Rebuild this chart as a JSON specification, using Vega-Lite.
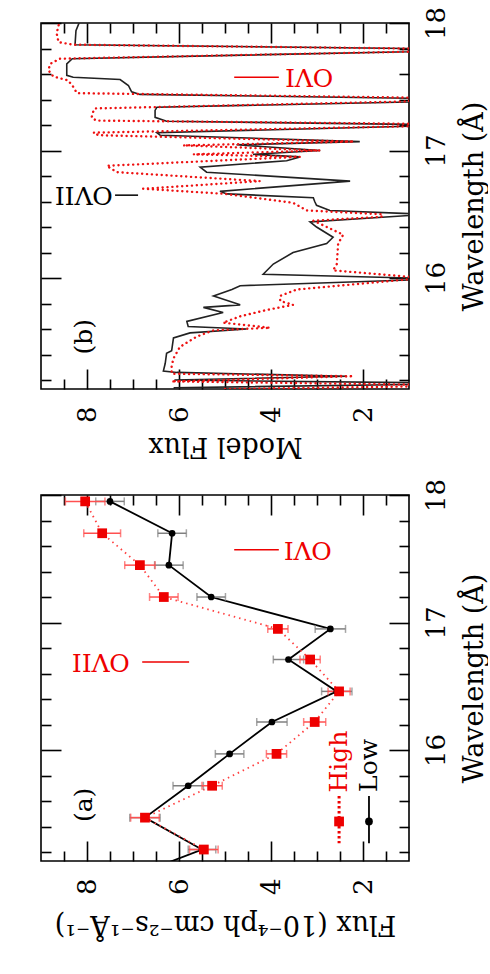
{
  "$schema": "https://vega.github.io/schema/vega-lite/v6.json",
  "background": "white",
  "padding": {"left": 39, "top": 5, "right": 0, "bottom": 40},
  "config": {
    "view": {"stroke": "#000", "strokeWidth": 1.6},
    "font": "DejaVu Serif",
    "axis": {"labelFont": "DejaVu Serif", "titleFont": "DejaVu Serif", "labelColor": "#000", "titleColor": "#000", "tickColor": "#000", "tickWidth": 1.6, "grid": false, "domain": false, "labelFontSize": 26, "titleFontSize": 27, "titleFontWeight": "normal", "labelOverlap": false, "labelFlush": false}
  },
  "datasets": {
    "bBlack": [
      {"w":18.02,"flux":8.15},{"w":17.94,"flux":8.24},{"w":17.83,"flux":8.26},{"w":17.8,"flux":1.0},{"w":17.775,"flux":1.0},{"w":17.72,"flux":8.32},{"w":17.68,"flux":8.44},{"w":17.59,"flux":8.44},{"w":17.575,"flux":8.3},{"w":17.557,"flux":7.28},{"w":17.51,"flux":7.1},{"w":17.46,"flux":7.03},{"w":17.44,"flux":6.85},{"w":17.41,"flux":1.0},{"w":17.38,"flux":1.0},{"w":17.34,"flux":6.48},{"w":17.315,"flux":6.52},{"w":17.26,"flux":6.52},{"w":17.23,"flux":6.27},{"w":17.205,"flux":1.0},{"w":17.19,"flux":1.0},{"w":17.14,"flux":6.48},{"w":17.12,"flux":6.41},{"w":17.07,"flux":2.07},{"w":17.045,"flux":4.75},{"w":17.0,"flux":2.93},{"w":16.97,"flux":4.39},{"w":16.95,"flux":3.37},{"w":16.92,"flux":3.66},{"w":16.87,"flux":5.54},{"w":16.83,"flux":5.4},{"w":16.76,"flux":2.28},{"w":16.68,"flux":5.11},{"w":16.66,"flux":4.96},{"w":16.63,"flux":3.08},{"w":16.6,"flux":3.05},{"w":16.57,"flux":3.01},{"w":16.53,"flux":2.72},{"w":16.505,"flux":1.0},{"w":16.49,"flux":1.0},{"w":16.44,"flux":3.15},{"w":16.4,"flux":3.01},{"w":16.32,"flux":2.65},{"w":16.27,"flux":2.79},{"w":16.2,"flux":3.52},{"w":16.11,"flux":3.95},{"w":16.03,"flux":4.17},{"w":16.0,"flux":1.0},{"w":15.985,"flux":1.0},{"w":15.94,"flux":4.67},{"w":15.91,"flux":4.85},{"w":15.86,"flux":5.25},{"w":15.79,"flux":4.67},{"w":15.77,"flux":5.47},{"w":15.73,"flux":5.04},{"w":15.66,"flux":5.83},{"w":15.62,"flux":5.8},{"w":15.6,"flux":4.53},{"w":15.57,"flux":5.76},{"w":15.53,"flux":6.12},{"w":15.43,"flux":6.16},{"w":15.41,"flux":6.27},{"w":15.33,"flux":6.3},{"w":15.27,"flux":6.34},{"w":15.26,"flux":6.05},{"w":15.23,"flux":2.35},{"w":15.2,"flux":6.1},{"w":15.18,"flux":1.0},{"w":15.165,"flux":1.0},{"w":15.14,"flux":6.1},{"w":15.1,"flux":6.1}
    ],
    "bRed": [
      {"w":18.02,"flux":8.59},{"w":17.92,"flux":8.66},{"w":17.85,"flux":8.62},{"w":17.83,"flux":8.3},{"w":17.8,"flux":1.0},{"w":17.775,"flux":1.0},{"w":17.72,"flux":8.59},{"w":17.68,"flux":8.8},{"w":17.63,"flux":8.84},{"w":17.58,"flux":8.73},{"w":17.55,"flux":8.41},{"w":17.5,"flux":8.3},{"w":17.45,"flux":8.22},{"w":17.415,"flux":1.0},{"w":17.385,"flux":1.0},{"w":17.33,"flux":7.83},{"w":17.31,"flux":7.86},{"w":17.26,"flux":7.9},{"w":17.235,"flux":7.8},{"w":17.21,"flux":1.0},{"w":17.19,"flux":1.0},{"w":17.14,"flux":7.86},{"w":17.12,"flux":7.75},{"w":17.07,"flux":2.2},{"w":17.04,"flux":5.91},{"w":17.0,"flux":2.93},{"w":16.97,"flux":5.69},{"w":16.95,"flux":3.37},{"w":16.93,"flux":4.6},{"w":16.88,"flux":7.57},{"w":16.83,"flux":7.35},{"w":16.76,"flux":4.24},{"w":16.7,"flux":6.78},{"w":16.66,"flux":5.0},{"w":16.59,"flux":3.52},{"w":16.53,"flux":3.22},{"w":16.5,"flux":1.57},{"w":16.48,"flux":1.6},{"w":16.45,"flux":3.08},{"w":16.34,"flux":2.43},{"w":16.27,"flux":2.54},{"w":16.11,"flux":2.57},{"w":16.06,"flux":2.65},{"w":16.01,"flux":1.0},{"w":15.99,"flux":1.0},{"w":15.91,"flux":3.44},{"w":15.86,"flux":3.8},{"w":15.82,"flux":3.8},{"w":15.79,"flux":3.52},{"w":15.75,"flux":4.09},{"w":15.7,"flux":4.67},{"w":15.65,"flux":5.04},{"w":15.61,"flux":4.02},{"w":15.59,"flux":5.25},{"w":15.54,"flux":5.62},{"w":15.46,"flux":5.98},{"w":15.37,"flux":6.12},{"w":15.31,"flux":6.16},{"w":15.25,"flux":6.16},{"w":15.23,"flux":2.21},{"w":15.19,"flux":6.16},{"w":15.165,"flux":1.0},{"w":15.15,"flux":1.0},{"w":15.13,"flux":5.0},{"w":15.1,"flux":5.0}
    ],
    "bNoteRed": [{"w":17.575,"flux":3.17,"flux2":4.8,"flux3":3.83,"label":"OVI"}],
    "bNoteBlack": [{"w":16.65,"flux":8.07,"flux2":7.39,"flux3":6.89,"label":"OVII"}],
    "bTag": [{"w":15.54,"flux":8.07,"label":"(b)"}],
    "aLow": [
      {"w":17.95,"flux":7.5,"err":0.31},{"w":17.7,"flux":6.15,"err":0.31},{"w":17.45,"flux":6.22,"err":0.31},{"w":17.2,"flux":5.3,"err":0.31},{"w":16.95,"flux":2.71,"err":0.33},{"w":16.71,"flux":3.62,"err":0.33},{"w":16.46,"flux":2.57,"err":0.33},{"w":16.22,"flux":3.98,"err":0.33},{"w":15.97,"flux":4.9,"err":0.31},{"w":15.72,"flux":5.8,"err":0.33},{"w":15.47,"flux":6.74,"err":0.33},{"w":15.22,"flux":5.5,"err":0.3}
    ],
    "aLowLine": [
      {"w":17.95,"flux":7.5},{"w":17.7,"flux":6.15},{"w":17.45,"flux":6.22},{"w":17.2,"flux":5.3},{"w":16.95,"flux":2.71},{"w":16.71,"flux":3.62},{"w":16.46,"flux":2.57},{"w":16.22,"flux":3.98},{"w":15.97,"flux":4.9},{"w":15.72,"flux":5.8},{"w":15.47,"flux":6.74},{"w":15.22,"flux":5.5},{"w":14.97,"flux":7.3}
    ],
    "aHigh": [
      {"w":17.95,"flux":8.04,"err":0.43},{"w":17.7,"flux":7.67,"err":0.4},{"w":17.45,"flux":6.85,"err":0.33},{"w":17.2,"flux":6.33,"err":0.31},{"w":16.95,"flux":3.85,"err":0.22},{"w":16.71,"flux":3.15,"err":0.22},{"w":16.46,"flux":2.52,"err":0.24},{"w":16.22,"flux":3.05,"err":0.24},{"w":15.97,"flux":3.88,"err":0.22},{"w":15.72,"flux":5.28,"err":0.22},{"w":15.47,"flux":6.74,"err":0.31},{"w":15.22,"flux":5.46,"err":0.31}
    ],
    "aNotes": [
      {"w":16.69,"flux":7.7,"flux2":6.8,"flux3":5.78,"label":"OVII"},
      {"w":17.57,"flux":3.2,"flux2":4.8,"flux3":3.83,"label":"OVI"}
    ],
    "aTag": [{"w":15.57,"flux":8.07,"label":"(a)"}],
    "legHigh": [{"w":15.91,"wa":15.64,"wb":15.27,"wm":15.44,"flux":2.52,"label":"High"}],
    "legLow": [{"w":15.88,"wa":15.64,"wb":15.27,"wm":15.44,"flux":1.87,"label":"Low"}]
  },
  "bounds": "flush",
  "spacing": 106,
  "vconcat": [
    {
      "width": 368,
      "height": 366,
      "resolve": {"axis": {"x": "independent", "y": "independent"}},
      "layer": [
        {
          "data": {"name": "bBlack"},
          "mark": {"type": "line", "color": "#222", "strokeWidth": 1.6, "clip": true},
          "encoding": {
            "x": {"field": "flux", "type": "quantitative", "scale": {"domain": [1, 9], "reverse": true, "nice": false, "zero": false},
                  "axis": {"orient": "bottom", "values": [2, 4, 6, 8], "ticks": false, "labelAngle": 270, "labelAlign": "right", "labelBaseline": "middle", "labelPadding": 17, "title": "Model Flux", "titleAngle": 180, "titleAlign": "center", "titleBaseline": "alphabetic", "titleY": 48}},
            "y": {"field": "w", "type": "quantitative", "scale": {"domain": [15.13, 18], "nice": false, "zero": false},
                  "axis": {"orient": "right", "values": [16, 17, 18], "ticks": false, "labelAngle": 270, "labelAlign": "center", "labelBaseline": "top", "labelPadding": 14, "title": "Wavelength (Å)", "titleAngle": 270, "titleAlign": "center", "titleBaseline": "alphabetic", "titleX": 73}},
            "order": {"field": "w", "type": "quantitative", "sort": "descending"}
          }
        },
        {
          "data": {"name": "bRed"},
          "mark": {"type": "line", "color": "#ee1111", "strokeWidth": 2.4, "strokeDash": [0.1, 4.8], "strokeCap": "round", "clip": true},
          "encoding": {
            "x": {"field": "flux", "type": "quantitative", "scale": {"domain": [1, 9], "reverse": true, "nice": false, "zero": false},
                  "axis": {"orient": "bottom", "values": [2, 4, 6, 8], "labels": false, "tickSize": -20, "title": null}},
            "y": {"field": "w", "type": "quantitative", "scale": {"domain": [15.13, 18], "nice": false, "zero": false},
                  "axis": {"orient": "right", "values": [16, 17, 18], "labels": false, "tickSize": -20, "title": null}},
            "order": {"field": "w", "type": "quantitative", "sort": "descending"}
          }
        },
        {
          "data": {"name": "bNoteRed"},
          "mark": {"type": "text", "color": "#ee0000", "font": "DejaVu Serif", "fontSize": 25, "angle": 180, "align": "center", "baseline": "middle"},
          "encoding": {
            "x": {"field": "flux", "type": "quantitative", "scale": {"domain": [1, 9], "reverse": true, "nice": false, "zero": false},
                  "axis": {"orient": "bottom", "values": [1.5, 2.5, 3, 3.5, 4.5, 5, 5.5, 6.5, 7, 7.5, 8.5], "labels": false, "tickSize": -10, "title": null}},
            "y": {"field": "w", "type": "quantitative", "scale": {"domain": [15.13, 18], "nice": false, "zero": false},
                  "axis": {"orient": "right", "values": [15.2, 15.4, 15.6, 15.8, 16.2, 16.4, 16.6, 16.8, 17.2, 17.4, 17.6, 17.8], "labels": false, "tickSize": -10, "title": null}},
            "text": {"field": "label"}
          }
        },
        {
          "data": {"name": "bNoteRed"},
          "mark": {"type": "rule", "color": "#ee0000", "strokeWidth": 1.5},
          "encoding": {
            "x": {"field": "flux2", "type": "quantitative", "scale": {"domain": [1, 9], "reverse": true, "nice": false, "zero": false},
                  "axis": {"orient": "top", "values": [2, 4, 6, 8], "labels": false, "tickSize": -20, "title": null}},
            "x2": {"field": "flux3"},
            "y": {"field": "w", "type": "quantitative", "scale": {"domain": [15.13, 18], "nice": false, "zero": false},
                  "axis": {"orient": "left", "values": [16, 17, 18], "labels": false, "tickSize": -20, "title": null}}
          }
        },
        {
          "data": {"name": "bNoteBlack"},
          "mark": {"type": "text", "color": "#000", "font": "DejaVu Serif", "fontSize": 25, "angle": 180, "align": "center", "baseline": "middle"},
          "encoding": {
            "x": {"field": "flux", "type": "quantitative", "scale": {"domain": [1, 9], "reverse": true, "nice": false, "zero": false},
                  "axis": {"orient": "top", "values": [1.5, 2.5, 3, 3.5, 4.5, 5, 5.5, 6.5, 7, 7.5, 8.5], "labels": false, "tickSize": -10, "title": null}},
            "y": {"field": "w", "type": "quantitative", "scale": {"domain": [15.13, 18], "nice": false, "zero": false},
                  "axis": {"orient": "left", "values": [15.2, 15.4, 15.6, 15.8, 16.2, 16.4, 16.6, 16.8, 17.2, 17.4, 17.6, 17.8], "labels": false, "tickSize": -10, "title": null}},
            "text": {"field": "label"}
          }
        },
        {
          "data": {"name": "bNoteBlack"},
          "mark": {"type": "rule", "color": "#000", "strokeWidth": 1.5},
          "encoding": {
            "x": {"field": "flux2", "type": "quantitative", "scale": {"domain": [1, 9], "reverse": true, "nice": false, "zero": false}, "axis": null},
            "x2": {"field": "flux3"},
            "y": {"field": "w", "type": "quantitative", "scale": {"domain": [15.13, 18], "nice": false, "zero": false}, "axis": null}
          }
        },
        {
          "data": {"name": "bTag"},
          "mark": {"type": "text", "color": "#000", "font": "DejaVu Serif", "fontSize": 25, "angle": 270, "align": "center", "baseline": "middle"},
          "encoding": {
            "x": {"field": "flux", "type": "quantitative", "scale": {"domain": [1, 9], "reverse": true, "nice": false, "zero": false}, "axis": null},
            "y": {"field": "w", "type": "quantitative", "scale": {"domain": [15.13, 18], "nice": false, "zero": false}, "axis": null},
            "text": {"field": "label"}
          }
        }
      ]
    },
    {
      "width": 368,
      "height": 366,
      "resolve": {"axis": {"x": "independent", "y": "independent"}},
      "layer": [
        {
          "data": {"name": "aLowLine"},
          "mark": {"type": "line", "color": "#000", "strokeWidth": 1.8, "clip": true},
          "encoding": {
            "x": {"field": "flux", "type": "quantitative", "scale": {"domain": [1, 9], "reverse": true, "nice": false, "zero": false},
                  "axis": {"orient": "bottom", "values": [2, 4, 6, 8], "ticks": false, "labelAngle": 270, "labelAlign": "right", "labelBaseline": "middle", "labelPadding": 17, "title": "Flux (10⁻⁴ph cm⁻²s⁻¹Å⁻¹)", "titleAngle": 180, "titleAlign": "center", "titleBaseline": "alphabetic", "titleY": 54}},
            "y": {"field": "w", "type": "quantitative", "scale": {"domain": [15.13, 18], "nice": false, "zero": false},
                  "axis": {"orient": "right", "values": [16, 17, 18], "ticks": false, "labelAngle": 270, "labelAlign": "center", "labelBaseline": "top", "labelPadding": 14, "title": "Wavelength (Å)", "titleAngle": 270, "titleAlign": "center", "titleBaseline": "alphabetic", "titleX": 73}},
            "order": {"field": "w", "type": "quantitative", "sort": "descending"}
          }
        },
        {
          "data": {"name": "aHigh"},
          "mark": {"type": "line", "color": "#ff4040", "strokeWidth": 1.8, "strokeDash": [1.5, 4], "clip": true},
          "encoding": {
            "x": {"field": "flux", "type": "quantitative", "scale": {"domain": [1, 9], "reverse": true, "nice": false, "zero": false},
                  "axis": {"orient": "bottom", "values": [2, 4, 6, 8], "labels": false, "tickSize": -20, "title": null}},
            "y": {"field": "w", "type": "quantitative", "scale": {"domain": [15.13, 18], "nice": false, "zero": false},
                  "axis": {"orient": "right", "values": [16, 17, 18], "labels": false, "tickSize": -20, "title": null}},
            "order": {"field": "w", "type": "quantitative", "sort": "descending"}
          }
        },
        {
          "data": {"name": "aLow"},
          "mark": {"type": "errorbar", "color": "#808080", "thickness": 1.5, "ticks": {"size": 8, "color": "#808080", "thickness": 1.5}},
          "encoding": {
            "x": {"field": "flux", "type": "quantitative", "scale": {"domain": [1, 9], "reverse": true, "nice": false, "zero": false}, "axis": null},
            "xError": {"field": "err"},
            "y": {"field": "w", "type": "quantitative", "scale": {"domain": [15.13, 18], "nice": false, "zero": false}, "axis": null}
          }
        },
        {
          "data": {"name": "aHigh"},
          "mark": {"type": "errorbar", "color": "#ff5050", "thickness": 1.5, "ticks": {"size": 8, "color": "#ff5050", "thickness": 1.5}},
          "encoding": {
            "x": {"field": "flux", "type": "quantitative", "scale": {"domain": [1, 9], "reverse": true, "nice": false, "zero": false}, "axis": null},
            "xError": {"field": "err"},
            "y": {"field": "w", "type": "quantitative", "scale": {"domain": [15.13, 18], "nice": false, "zero": false}, "axis": null}
          }
        },
        {
          "data": {"name": "aLow"},
          "mark": {"type": "point", "shape": "circle", "filled": true, "color": "#000", "size": 45, "opacity": 1},
          "encoding": {
            "x": {"field": "flux", "type": "quantitative", "scale": {"domain": [1, 9], "reverse": true, "nice": false, "zero": false},
                  "axis": {"orient": "bottom", "values": [1.5, 2.5, 3, 3.5, 4.5, 5, 5.5, 6.5, 7, 7.5, 8.5], "labels": false, "tickSize": -10, "title": null}},
            "y": {"field": "w", "type": "quantitative", "scale": {"domain": [15.13, 18], "nice": false, "zero": false},
                  "axis": {"orient": "right", "values": [15.2, 15.4, 15.6, 15.8, 16.2, 16.4, 16.6, 16.8, 17.2, 17.4, 17.6, 17.8], "labels": false, "tickSize": -10, "title": null}}
          }
        },
        {
          "data": {"name": "aHigh"},
          "mark": {"type": "point", "shape": "square", "filled": true, "color": "#ee0000", "size": 95, "opacity": 1},
          "encoding": {
            "x": {"field": "flux", "type": "quantitative", "scale": {"domain": [1, 9], "reverse": true, "nice": false, "zero": false},
                  "axis": {"orient": "top", "values": [2, 4, 6, 8], "labels": false, "tickSize": -20, "title": null}},
            "y": {"field": "w", "type": "quantitative", "scale": {"domain": [15.13, 18], "nice": false, "zero": false},
                  "axis": {"orient": "left", "values": [16, 17, 18], "labels": false, "tickSize": -20, "title": null}}
          }
        },
        {
          "data": {"name": "aNotes"},
          "mark": {"type": "text", "color": "#ee0000", "font": "DejaVu Serif", "fontSize": 25, "angle": 180, "align": "center", "baseline": "middle"},
          "encoding": {
            "x": {"field": "flux", "type": "quantitative", "scale": {"domain": [1, 9], "reverse": true, "nice": false, "zero": false},
                  "axis": {"orient": "top", "values": [1.5, 2.5, 3, 3.5, 4.5, 5, 5.5, 6.5, 7, 7.5, 8.5], "labels": false, "tickSize": -10, "title": null}},
            "y": {"field": "w", "type": "quantitative", "scale": {"domain": [15.13, 18], "nice": false, "zero": false},
                  "axis": {"orient": "left", "values": [15.2, 15.4, 15.6, 15.8, 16.2, 16.4, 16.6, 16.8, 17.2, 17.4, 17.6, 17.8], "labels": false, "tickSize": -10, "title": null}},
            "text": {"field": "label"}
          }
        },
        {
          "data": {"name": "aNotes"},
          "mark": {"type": "rule", "color": "#ee0000", "strokeWidth": 1.5},
          "encoding": {
            "x": {"field": "flux2", "type": "quantitative", "scale": {"domain": [1, 9], "reverse": true, "nice": false, "zero": false}, "axis": null},
            "x2": {"field": "flux3"},
            "y": {"field": "w", "type": "quantitative", "scale": {"domain": [15.13, 18], "nice": false, "zero": false}, "axis": null}
          }
        },
        {
          "data": {"name": "aTag"},
          "mark": {"type": "text", "color": "#000", "font": "DejaVu Serif", "fontSize": 25, "angle": 270, "align": "center", "baseline": "middle"},
          "encoding": {
            "x": {"field": "flux", "type": "quantitative", "scale": {"domain": [1, 9], "reverse": true, "nice": false, "zero": false}, "axis": null},
            "y": {"field": "w", "type": "quantitative", "scale": {"domain": [15.13, 18], "nice": false, "zero": false}, "axis": null},
            "text": {"field": "label"}
          }
        },
        {
          "data": {"name": "legHigh"},
          "mark": {"type": "text", "color": "#ee0000", "font": "DejaVu Serif", "fontSize": 25, "angle": 270, "align": "center", "baseline": "middle"},
          "encoding": {
            "x": {"field": "flux", "type": "quantitative", "scale": {"domain": [1, 9], "reverse": true, "nice": false, "zero": false}, "axis": null},
            "y": {"field": "w", "type": "quantitative", "scale": {"domain": [15.13, 18], "nice": false, "zero": false}, "axis": null},
            "text": {"field": "label"}
          }
        },
        {
          "data": {"name": "legLow"},
          "mark": {"type": "text", "color": "#000", "font": "DejaVu Serif", "fontSize": 25, "angle": 270, "align": "center", "baseline": "middle"},
          "encoding": {
            "x": {"field": "flux", "type": "quantitative", "scale": {"domain": [1, 9], "reverse": true, "nice": false, "zero": false}, "axis": null},
            "y": {"field": "w", "type": "quantitative", "scale": {"domain": [15.13, 18], "nice": false, "zero": false}, "axis": null},
            "text": {"field": "label"}
          }
        },
        {
          "data": {"name": "legHigh"},
          "mark": {"type": "rule", "color": "#ee0000", "strokeWidth": 3, "strokeDash": [2.5, 2.5]},
          "encoding": {
            "x": {"field": "flux", "type": "quantitative", "scale": {"domain": [1, 9], "reverse": true, "nice": false, "zero": false}, "axis": null},
            "y": {"field": "wa", "type": "quantitative", "scale": {"domain": [15.13, 18], "nice": false, "zero": false}, "axis": null},
            "y2": {"field": "wb"}
          }
        },
        {
          "data": {"name": "legLow"},
          "mark": {"type": "rule", "color": "#000", "strokeWidth": 1.8},
          "encoding": {
            "x": {"field": "flux", "type": "quantitative", "scale": {"domain": [1, 9], "reverse": true, "nice": false, "zero": false}, "axis": null},
            "y": {"field": "wa", "type": "quantitative", "scale": {"domain": [15.13, 18], "nice": false, "zero": false}, "axis": null},
            "y2": {"field": "wb"}
          }
        },
        {
          "data": {"name": "legHigh"},
          "mark": {"type": "point", "shape": "square", "filled": true, "color": "#ee0000", "size": 95, "opacity": 1},
          "encoding": {
            "x": {"field": "flux", "type": "quantitative", "scale": {"domain": [1, 9], "reverse": true, "nice": false, "zero": false}, "axis": null},
            "y": {"field": "wm", "type": "quantitative", "scale": {"domain": [15.13, 18], "nice": false, "zero": false}, "axis": null}
          }
        },
        {
          "data": {"name": "legLow"},
          "mark": {"type": "point", "shape": "circle", "filled": true, "color": "#000", "size": 60, "opacity": 1},
          "encoding": {
            "x": {"field": "flux", "type": "quantitative", "scale": {"domain": [1, 9], "reverse": true, "nice": false, "zero": false}, "axis": null},
            "y": {"field": "wm", "type": "quantitative", "scale": {"domain": [15.13, 18], "nice": false, "zero": false}, "axis": null}
          }
        }
      ]
    }
  ]
}
